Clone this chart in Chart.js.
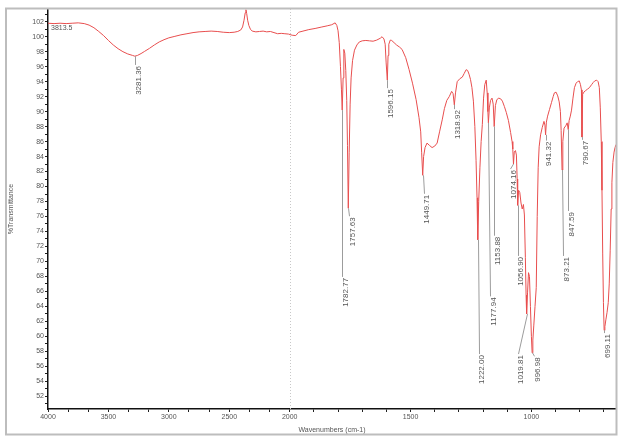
<!DOCTYPE html>
<html><head><meta charset="utf-8">
<script src="https://cdn.jsdelivr.net/npm/chart.js@4.4.1/dist/chart.umd.min.js"></script>
<style>html,body{margin:0;padding:0;background:#fff;}#wrap{position:relative;width:620px;height:441px;}</style>
</head><body><div id="wrap"><canvas id="c" width="620" height="441"></canvas></div>
<script>
// ---- data ----
const wavenumbers = [4000,3950,3900,3850,3800,3750,3700,3660,3620,3580,3540,3500,3460,3420,3380,3340,3300,3281.36,3260,3230,3200,3160,3120,3080,3040,3000,2950,2900,2850,2800,2750,2700,2650,2600,2550,2500,2460,2430,2405,2390,2378,2368,2362,2356,2348,2338,2325,2310,2280,2250,2220,2190,2160,2130,2100,2070,2040,2010,1990,1975,1963,1945,1921,1895,1867,1845,1826,1812,1805,1800,1795,1790,1786,1782.77,1779,1776,1772,1768,1764,1761,1757.63,1754,1750,1746,1740,1732,1722,1712,1700,1685,1670,1655,1640,1625,1618,1610,1605,1601,1596.15,1593,1590,1584,1578,1568,1558,1545,1535,1520,1506,1492,1477,1465,1458,1454,1449.71,1446,1440,1432,1422,1411,1400,1390,1380,1369,1360,1350,1340,1330,1324,1318.92,1314,1307,1296,1286,1278,1270,1264,1258,1252,1246,1240,1234,1229,1225,1222.00,1218,1213,1208,1203,1198,1193,1187,1183,1180,1177.94,1174,1169,1163,1158,1153.88,1149,1143,1135,1127,1120,1112,1104,1095,1086,1080,1077,1074.16,1071,1066,1062,1059,1056.90,1053,1048,1043,1038,1033,1029,1025,1022,1019.81,1016,1012,1008,1004,1000,996.98,994,990,985,980,976,972,968,962,955,948,944,941.32,938,933,925,917,910,905,898,891,885,880,877,873.21,870,865,858,852,847.59,844,839,834,828,822,815,809,802,797,793,790.67,788,783,776,768,760,751,744,738,730,724,719,715,711,708,705,702,699.11,696,692,687,682,678,674,670,667,663,658,654,650];
const transmittance = [101.8,101.75,101.8,101.75,101.8,101.85,101.75,101.55,101.2,100.7,100.15,99.5,98.9,98.4,98.0,97.7,97.5,97.4,97.5,97.75,98.05,98.45,98.9,99.3,99.6,99.85,100.05,100.25,100.4,100.55,100.65,100.7,100.75,100.7,100.6,100.55,100.6,100.7,100.9,101.3,102.2,103.2,103.6,103.1,102.2,101.5,101.0,100.75,100.65,100.7,100.75,100.65,100.7,100.55,100.4,100.45,100.4,100.35,100.2,100.15,100.6,100.75,100.95,101.1,101.3,101.45,101.6,101.85,101.5,100.8,99.2,96.0,93.0,90.2,94.5,98.3,97.8,95.5,91.5,85.5,77.1,84.5,91.0,94.5,96.8,98.2,98.9,99.3,99.45,99.5,99.45,99.4,99.55,99.8,100.0,99.7,99.0,96.5,94.2,97.5,99.0,99.55,99.5,99.2,98.9,98.6,98.3,97.2,95.6,93.8,91.6,89.2,87.3,84.5,81.5,84.0,85.2,85.8,85.5,85.2,85.4,85.8,87.3,88.9,90.4,91.5,92.0,92.7,92.4,90.9,92.5,94.0,94.4,94.6,95.1,95.6,95.5,95.0,94.3,93.2,91.4,88.0,83.5,78.5,72.9,78.0,82.5,86.0,88.3,91.8,93.6,94.2,92.5,90.0,88.5,90.5,91.5,91.8,91.0,88.0,90.8,91.6,91.8,91.7,91.4,90.7,89.9,88.8,87.2,86.0,85.0,83.0,84.6,84.8,84.2,81.0,77.5,79.5,79.2,77.8,77.0,77.6,76.2,70.5,65.5,63.0,65.8,68.5,68.0,64.0,60.0,57.8,59.5,61.5,64.0,66.5,76.0,82.5,85.3,86.9,87.9,88.7,88.2,86.9,88.6,89.4,90.3,91.2,92.0,92.5,92.6,92.1,91.3,90.0,87.5,82.2,86.0,87.8,88.1,88.5,87.6,88.8,89.4,90.2,91.8,93.2,93.8,94.0,94.1,93.6,92.9,86.6,92.3,92.6,92.8,93.0,93.2,93.6,93.9,94.1,94.2,94.0,93.2,90.5,86.0,79.5,71.0,64.5,60.8,61.3,62.2,63.2,64.5,67.0,71.5,77.0,80.5,83.2,84.6,85.2,85.6];

const peakWavenumbers = [3281.36,1782.77,1757.63,1596.15,1449.71,1318.92,1222.00,1177.94,1153.88,1074.16,1056.90,1019.81,996.98,941.32,873.21,847.59,790.67,699.11];
const peakLabels = ["3281.36","1782.77","1757.63","1596.15","1449.71","1318.92","1222.00","1177.94","1153.88","1074.16","1056.90","1019.81","996.98","941.32","873.21","847.59","790.67","699.11"];
// %T at which each peak label begins
const peakLabelStart = [96.1,67.8,75.9,93.0,78.9,90.2,57.5,65.2,73.3,82.2,70.6,57.5,57.2,86.0,70.6,76.6,86.1,60.3];
const peakLabelShift = [0,0,1,0,1,0,1,2,0,-3,0,-9,2,0,1,0,0,0];

const xTickWavenumbers = [4000,3500,3000,2500,2000,1500,1000];
const yTickValues = [102,100,98,96,94,92,90,88,86,84,82,80,78,76,74,72,70,68,66,64,62,60,58,56,54,52];
const cornerText = "3813.5";

// ---- scale break mapping (OMNIC-style, x2 expansion below 2000 cm-1) ----
function toU(w){ return w >= 2000 ? (4000 - w) / 2 : 1000 + (2000 - w); }
function fromU(u){ return u <= 1000 ? 4000 - 2 * u : 2000 - (u - 1000); }

const points = wavenumbers.map((w, i) => ({x: toU(w), y: transmittance[i]}));

const xTickU = [];
for (let k = 0; k <= 12; k++) xTickU.push(k * 250 / 3);
for (let u = 1100; u <= 2300; u += 100) xTickU.push(u);
const yMinor = [];
for (let v = 51; v <= 103; v++) yMinor.push(v);

const FONT = '"Liberation Sans", Arial, sans-serif';

const decor = {
  id: 'decor',
  beforeDatasetsDraw(chart) {
    const {ctx, chartArea, scales: {x}} = chart;
    const px = Math.round(x.getPixelForValue(toU(2000))) + 0.5;
    ctx.save();
    ctx.strokeStyle = '#c8c8c8';
    ctx.lineWidth = 1;
    ctx.setLineDash([1, 2]);
    ctx.beginPath(); ctx.moveTo(px, chartArea.top); ctx.lineTo(px, chartArea.bottom); ctx.stroke();
    ctx.restore();
  },
  afterDatasetsDraw(chart) {
    const {ctx, scales: {x, y}} = chart;
    ctx.save();
    ctx.font = '8px ' + FONT;
    peakWavenumbers.forEach((w, i) => {
      let best = 0, bd = 1e9;
      wavenumbers.forEach((ww, j) => { const d = Math.abs(ww - w); if (d < bd) { bd = d; best = j; } });
      const px = x.getPixelForValue(toU(w));
      const py = y.getPixelForValue(transmittance[best]);
      const lx = px + peakLabelShift[i];
      const ly = y.getPixelForValue(peakLabelStart[i]);
      ctx.strokeStyle = '#9c9c9c';
      ctx.lineWidth = 1;
      ctx.beginPath();
      ctx.moveTo(Math.round(px) + 0.5, py);
      ctx.lineTo(Math.round(lx) + 0.5, ly - 1);
      ctx.stroke();
      ctx.save();
      ctx.translate(lx + 3.5, ly);
      ctx.rotate(-Math.PI / 2);
      ctx.textAlign = 'right';
      ctx.textBaseline = 'middle';
      ctx.fillStyle = '#555';
      ctx.fillText(peakLabels[i], 0, 0);
      ctx.restore();
    });
    ctx.font = '7px ' + FONT;
    ctx.fillStyle = '#555';
    ctx.textAlign = 'left';
    ctx.textBaseline = 'middle';
    ctx.fillText(cornerText, x.left + 3, y.getPixelForValue(101.1));
    ctx.restore();
  },
  afterDraw(chart) {
    const {ctx} = chart;
    ctx.save();
    ctx.strokeStyle = '#bdbdbd';
    ctx.lineWidth = 2;
    ctx.strokeRect(6, 8.5, 610.5, 426);
    ctx.restore();
  }
};

new Chart(document.getElementById('c'), {
  type: 'scatter',
  data: { datasets: [{
    data: points, showLine: true, borderColor: 'rgb(232,78,78)', borderWidth: 1,
    pointRadius: 0, tension: 0, fill: false
  }]},
  options: {
    responsive: false, animation: false, devicePixelRatio: 1,
    layout: { padding: { top: 9, right: 4, left: 0, bottom: 0 } },
    plugins: { legend: { display: false }, tooltip: { enabled: false } },
    scales: {
      x: {
        type: 'linear', min: 0, max: toU(650),
        afterFit: s => { s.height = 32; },
        afterBuildTicks: s => { s.ticks = xTickU.map(v => ({value: v})); },
        ticks: {
          autoSkip: false, maxRotation: 0, padding: 1, color: '#555',
          font: { size: 7, family: FONT },
          callback: v => { const w = Math.round(fromU(v)); return xTickWavenumbers.some(t => Math.abs(t - fromU(v)) < 0.5) ? String(w) : ''; }
        },
        grid: { drawOnChartArea: false, drawTicks: true, tickLength: 3, tickColor: '#222', tickWidth: 1 },
        border: { display: true, color: '#111', width: 1.5 },
        title: { display: true, text: 'Wavenumbers (cm-1)', color: '#555', font: { size: 7, family: FONT }, padding: { top: 0, bottom: 7 } }
      },
      y: {
        type: 'linear', min: 50.3, max: 103.7,
        afterFit: s => { s.width = 48; },
        afterBuildTicks: s => { s.ticks = yMinor.map(v => ({value: v})); },
        ticks: {
          autoSkip: false, padding: 1, color: '#555',
          font: { size: 7, family: FONT },
          callback: v => yTickValues.includes(v) ? String(v) : ''
        },
        grid: { drawOnChartArea: false, drawTicks: true, tickLength: 3, tickColor: '#222', tickWidth: 1 },
        border: { display: true, color: '#111', width: 1.5 },
        title: { display: true, text: '%Transmittance', color: '#555', font: { size: 7, family: FONT }, padding: { top: 7, bottom: 0 } }
      }
    }
  },
  plugins: [decor]
});
</script>
</body></html>
